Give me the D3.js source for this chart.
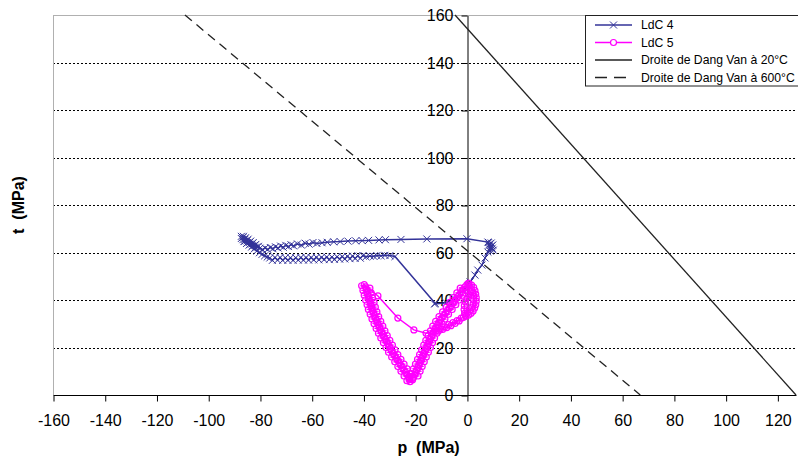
<!DOCTYPE html>
<html>
<head>
<meta charset="utf-8">
<script src="https://cdn.jsdelivr.net/npm/d3@7"></script>
<style>
  html, body { margin: 0; padding: 0; background: #fff; }
  svg { display: block; font-family: "Liberation Sans", Arial, sans-serif; }
  text { white-space: pre; }
</style>
</head>
<body>
<svg id="chart" width="798" height="463"></svg>
<script>
// ---------- DATA ----------
const xTicks = [-160, -140, -120, -100, -80, -60, -40, -20, 0, 20, 40, 60, 80, 100, 120];
const yTicks = [0, 20, 40, 60, 80, 100, 120, 140, 160];
const xTitle = "p  (MPa)";
const yTitle = "t  (MPa)";
const seriesNames = ["LdC 4", "LdC 5", "Droite de Dang Van à 20°C", "Droite de Dang Van à 600°C"];

// LdC 4 : [p, t] points, in loading order
const ldc4 = [
  [-12.5,38.3],[-8,38.8],[-4,41],[-1.5,44],[1.2,47.6],[3.1,50.5],[4.2,52.6],[5.8,54.7],[7,57.7],[8.1,60.2],
  [9,61.5],[9.6,62.8],[8.8,63.6],[9.8,61.8],[8.4,64.2],[9.2,62.2],[10.2,61],[8.6,63],[9.4,64],[10,63.2],[9,60.6],[8.1,64.4],
  [0,65.8],[-15.5,65.7],[-25.5,65.5],[-31.5,65.4],[-34,65.3],[-38,65.1],[-40.5,65],[-43,64.9],[-46,64.8],[-49,64.6],
  [-51.5,64.5],[-54,64.3],[-56,64.1],[-58,63.8],[-59.5,64.2],[-61,63.5],[-62.5,63.9],[-64,63.1],[-65.5,63.6],[-67,62.8],
  [-68,63.3],[-69,62.5],[-70,63],[-71,62.2],[-72,62.7],[-73,61.9],[-74,62.4],[-75,61.6],[-76,62.1],[-77,61.3],[-78,61.9],
  [-79,61.2],[-80,61.8],
  [-81,62.3],[-82,63],[-83,63.6],[-84,64.3],[-85,64.9],[-85.8,65.6],[-86.6,66.3],[-87.2,66.8],[-86.4,66.8],[-85.6,66.2],
  [-84.6,65.6],[-83.6,64.8],[-82.6,64.2],[-81.6,63.4],[-80.6,62.6],[-81.8,62.2],[-82.8,62.9],[-83.8,63.5],[-84.8,64.1],
  [-85.8,64.8],[-86.6,65.4],[-87.2,65.9],[-86.2,64.6],[-85.2,63.8],[-84.2,63.1],[-83.2,62.3],[-82.2,61.5],[-81.2,60.7],
  [-80.2,59.9],[-79.2,59.2],[-78.2,58.6],[-77.2,58.1],[-76.2,57.7],
  [-75.2,56.7],[-74.2,57.9],[-73.2,56.8],[-72.2,57.9],[-71.2,56.7],[-70.2,57.8],[-69.2,56.7],[-68.2,57.8],[-67.2,56.7],
  [-66.2,57.8],[-65.2,56.8],[-64.2,57.9],[-63.2,56.8],[-62.2,57.9],[-61.2,56.8],[-60.2,57.9],[-59.2,56.9],[-58.2,58],
  [-57.2,56.9],[-56.2,58],[-55.2,57],[-54.2,58.1],[-53.2,57],[-52.2,58.1],[-51.2,57.1],[-50.2,58.2],[-49.2,57.2],
  [-48.2,58.3],[-47.2,57.3],[-46.2,58.4],[-45.2,57.4],[-44.2,58.5],[-43.2,57.5],[-42.2,58.6],[-41.2,57.6],[-40.2,58.7],
  [-39,58.2],[-37.5,58.5],[-36,58.4],[-34.8,58.7],[-33.2,58.6],[-31.7,58.8],[-29.8,58.7],[-27.8,58.3],
  [-12.3,38.6]
];

// LdC 5 : [p, t] points, in loading order
const ldc5 = [
  // loop at the right
  [0.8,47],[1.8,46.3],[2.6,45.3],[3.1,44],[3.4,42.5],[3.6,41],[3.6,39.5],[3.4,38],[3,36.6],[2.4,35.4],[1.6,34.4],
  [0.6,33.6],[-0.4,33.2],
  [-0.9,34.4],[-1.1,36],[-1,37.6],[-0.6,39.2],[0,40.8],[0.8,42.2],[1.6,43.4],[2.3,43],[2.6,41.6],[2.6,40],[2.4,38.4],
  [1.9,37],[1.2,35.8],[0.3,34.8],[-0.6,33.6],[-1.4,32.6],
  // lower band going left
  [-2.2,32.4],[-3,31.2],[-3.8,31.3],[-4.6,30.1],[-5.4,30.5],[-6.2,29.2],[-7,29.6],[-7.8,28.4],[-8.6,28.7],[-9.4,27.6],
  [-10.2,27.9],[-11,26.9],[-12,26.9],
  // sparse return
  [-15.8,26],[-20.5,27.4],[-26.7,32.4],[-34.4,41.7],[-39.7,46.5],
  // dense descent (left branch of the V)
  [-40.7,46],[-39.1,45.5],[-37.5,45],[-38.85,44.5],[-40.2,44],[-38.6,43.5],[-37,43],[-38.35,42.5],[-39.7,42],[-38.1,41.5],
  [-36.5,41],[-37.85,40.5],[-39.2,40],[-37.55,39.5],[-35.9,39],[-37.25,38.5],[-38.6,38],[-37,37.5],[-35.4,37],[-36.75,36.5],
  [-38.1,36],[-36.45,35.5],[-34.8,35],[-36.1,34.5],[-37.4,34],[-35.75,33.5],[-34.1,33],[-35.4,32.5],[-36.7,32],[-35,31.5],
  [-33.3,31],[-34.6,30.5],[-35.9,30],[-34.2,29.5],[-32.5,29],[-33.8,28.5],[-35.1,28],[-33.4,27.5],[-31.7,27],[-32.95,26.5],
  [-34.2,26],[-32.5,25.5],[-30.8,25],[-32.05,24.5],[-33.3,24],[-31.55,23.5],[-29.8,23],[-31.05,22.5],[-32.3,22],[-30.55,21.5],
  [-28.8,21],[-30.05,20.5],[-31.3,20],[-29.55,19.5],[-27.8,19],[-29.05,18.5],[-30.3,18],[-28.5,17.5],[-26.7,17],[-27.9,16.5],
  [-29.1,16],[-27.3,15.5],[-25.5,15],[-26.7,14.5],[-27.9,14],[-26.1,13.5],[-24.3,13],[-25.5,12.5],[-26.7,12],[-24.9,11.5],
  [-23.1,11],[-24.3,10.5],[-25.5,10],[-23.7,9.5],[-21.9,9],[-23.1,8.5],[-24.3,8],[-22.6,7.5],[-21,7],[-22.2,6.5],
  [-23.2,6],[-22,5.6],[-21,6.4],
  // dense ascent (right branch of the V)
  [-22.3,7],[-20.6,7.5],[-18.9,8],[-20.2,8.5],[-21.5,9],[-19.8,9.5],[-18.1,10],[-19.4,10.5],[-20.7,11],[-19,11.5],
  [-17.3,12],[-18.6,12.5],[-19.9,13],[-18.2,13.5],[-16.5,14],[-17.8,14.5],[-19.1,15],[-17.4,15.5],[-15.7,16],[-17,16.5],
  [-18.3,17],[-16.6,17.5],[-14.9,18],[-16.2,18.5],[-17.5,19],[-15.8,19.5],[-14.1,20],[-15.4,20.5],[-16.7,21],[-15,21.5],
  [-13.3,22],[-14.6,22.5],[-15.9,23],[-14.2,23.5],[-12.5,24],[-13.75,24.5],[-15,25],[-13.3,25.5],[-11.6,26],[-12.85,26.5],
  [-14.1,27],[-12.4,27.5],[-10.7,28],[-11.95,28.5],[-13.2,29],[-11.4,29.5],[-9.6,30],[-10.85,30.5],[-12.1,31],[-10.3,31.5],
  [-8.5,32],[-9.65,32.5],[-10.8,33],[-8.95,33.5],[-7.1,34],[-8.25,34.5],[-9.4,35],[-7.55,35.5],[-5.7,36],[-6.85,36.5],
  [-8,37],[-6.15,37.5],[-4.3,38],[-5.45,38.5],[-6.6,39],[-4.8,39.5],[-3,40],[-4.15,40.5],[-5.3,41],[-3.45,41.5],
  [-1.6,42],[-2.75,42.5],[-3.9,43],[-2.05,43.5],[-0.2,44],[-1.4,44.5],[-2.6,45],[-0.75,45.5],[0.8,46],[0,46.5],[0.5,47]
];

// Dang Van lines : [p, t] end points
const dv20 = [[-4.6,160],[127.2,0]];
const dv600 = [[-109,160],[67,0]];

// ---------- CHART ----------
(function () {
const svg = d3.select("#chart");
const W = 798, H = 463;
const pL = 53, pR = 796, pT = 15, pB = 395;

const x = d3.scaleLinear().domain([-160, 127.2]).range([pL, pR]);
const y = d3.scaleLinear().domain([0, 160]).range([pB, pT]);
const fmt = d => String(d);

svg.append("rect").attr("width", W).attr("height", H).attr("fill", "#fff");

// gridlines
svg.append("g").selectAll("line")
  .data(yTicks.filter(d => d > 0 && d < 160))
  .join("line")
  .attr("x1", pL).attr("x2", pR)
  .attr("y1", d => Math.round(y(d)) + 0.5).attr("y2", d => Math.round(y(d)) + 0.5)
  .attr("stroke", "#000").attr("stroke-width", 1).attr("stroke-dasharray", "2,2");

// plot border (gray)
svg.append("line").attr("x1", pL + 0.5).attr("x2", pL + 0.5).attr("y1", pT).attr("y2", pB)
  .attr("stroke", "#b0b0b0").attr("stroke-width", 1);
svg.append("line").attr("x1", pL).attr("x2", W).attr("y1", pT + 0.5).attr("y2", pT + 0.5)
  .attr("stroke", "#b0b0b0").attr("stroke-width", 1);

// x axis
const xAxis = d3.axisBottom(x).tickValues(xTicks).tickFormat(fmt).tickSize(6).tickPadding(13).tickSizeOuter(0);
const gx = svg.append("g").attr("transform", `translate(0.5,${pB + 0.5})`).call(xAxis);
gx.select(".domain").attr("stroke", "#000").attr("d", `M${pL},0H${pR}`);
gx.selectAll(".tick line").attr("stroke", "#000");
gx.selectAll(".tick text").attr("font-size", 16).attr("fill", "#000")
  .attr("font-family", "'Liberation Sans', Arial, sans-serif");

// y axis at p = 0
const yAxis = d3.axisLeft(y).tickValues(yTicks).tickFormat(fmt).tickSize(6).tickPadding(8).tickSizeOuter(0);
const gy = svg.append("g").attr("transform", `translate(${Math.round(x(0)) + 0.5},0.5)`).call(yAxis);
gy.select(".domain").attr("stroke", "#000");
gy.selectAll(".tick line").attr("stroke", "#000");
gy.selectAll(".tick text").attr("font-size", 16).attr("fill", "#000")
  .attr("font-family", "'Liberation Sans', Arial, sans-serif");

// axis titles
svg.append("text").attr("x", (pL + pR) / 2 + 4).attr("y", 453)
  .attr("text-anchor", "middle").attr("font-size", 16).attr("font-weight", "bold").text(xTitle);
svg.append("text").attr("transform", `translate(24,${(pT + pB) / 2}) rotate(-90)`)
  .attr("text-anchor", "middle").attr("font-size", 16).attr("font-weight", "bold").text(yTitle);

const line = d3.line().x(d => x(d[0])).y(d => y(d[1]));
const navy = "#333399", magenta = "#ff00ff", dark = "#222";

// LdC 4
svg.append("path").datum(ldc4).attr("d", line).attr("fill", "none")
  .attr("stroke", navy).attr("stroke-width", 1.5);
svg.append("g").selectAll("path").data(ldc4).join("path")
  .attr("transform", d => `translate(${x(d[0])},${y(d[1])})`)
  .attr("d", "M-3.5,-3.5L3.5,3.5M-3.5,3.5L3.5,-3.5")
  .attr("stroke", navy).attr("stroke-width", 1).attr("fill", "none");

// LdC 5
svg.append("path").datum(ldc5).attr("d", line).attr("fill", "none")
  .attr("stroke", magenta).attr("stroke-width", 1.5);
svg.append("g").selectAll("circle").data(ldc5).join("circle")
  .attr("cx", d => x(d[0])).attr("cy", d => y(d[1])).attr("r", 3)
  .attr("fill", "none").attr("stroke", magenta).attr("stroke-width", 1.2);

// Dang Van lines
svg.append("path").datum(dv20).attr("d", line).attr("fill", "none")
  .attr("stroke", dark).attr("stroke-width", 1.3);
svg.append("path").datum(dv600).attr("d", line).attr("fill", "none")
  .attr("stroke", dark).attr("stroke-width", 1.3).attr("stroke-dasharray", "9,6");

// Legend
const lg = svg.append("g");
lg.append("rect").attr("x", 585.5).attr("y", 15.5).attr("width", 230).attr("height", 70.5)
  .attr("fill", "#fff").attr("stroke", "#222").attr("stroke-width", 1);
const rowsY = [25, 42.5, 60, 77.5];
const styles = [
  { stroke: navy, dash: null, marker: "x" },
  { stroke: magenta, dash: null, marker: "o" },
  { stroke: dark, dash: null, marker: null },
  { stroke: dark, dash: "12,7", marker: null }
];
seriesNames.forEach((name, i) => {
  const yy = rowsY[i];
  const s = styles[i];
  const ln = lg.append("line").attr("x1", 595).attr("x2", 632).attr("y1", yy).attr("y2", yy)
    .attr("stroke", s.stroke).attr("stroke-width", 1.5);
  if (s.dash) ln.attr("stroke-dasharray", s.dash);
  if (s.marker === "x") {
    lg.append("path").attr("transform", `translate(613.5,${yy})`)
      .attr("d", "M-3.5,-3.5L3.5,3.5M-3.5,3.5L3.5,-3.5").attr("stroke", navy).attr("stroke-width", 1);
  } else if (s.marker === "o") {
    lg.append("circle").attr("cx", 613.5).attr("cy", yy).attr("r", 3)
      .attr("fill", "#fff").attr("stroke", magenta).attr("stroke-width", 1.2);
  }
  lg.append("text").attr("x", 641).attr("y", yy + 4.3).attr("font-size", 12.2).attr("fill", "#000").text(name);
});
})();
</script>
</body>
</html>
